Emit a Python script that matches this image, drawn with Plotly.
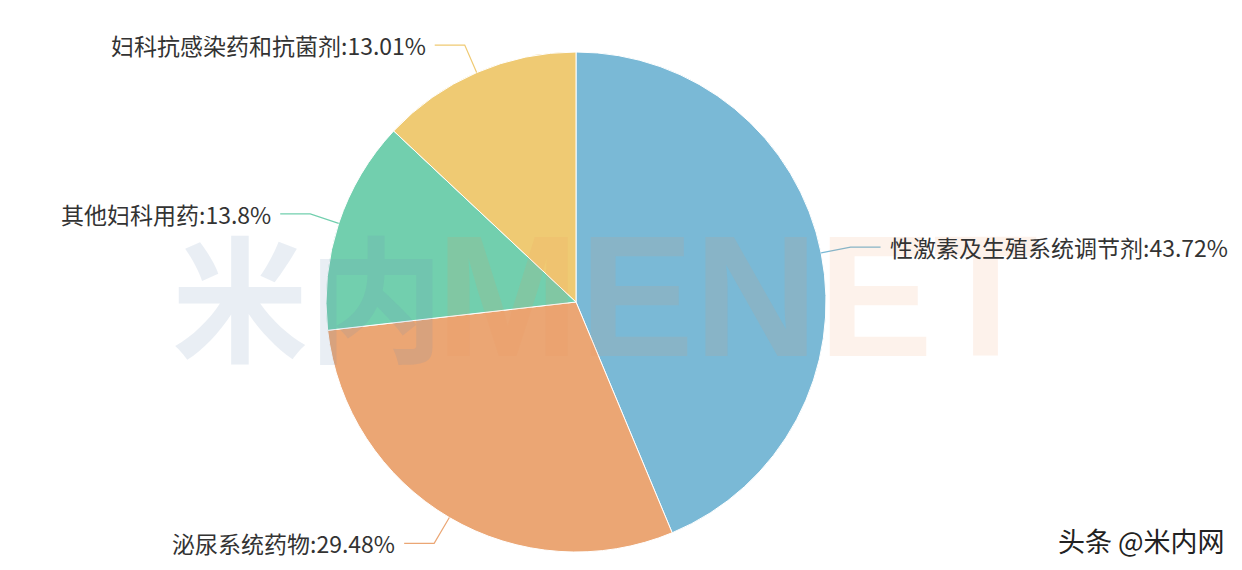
import math
import plotly.graph_objects as go

labels = ["性激素及生殖系统调节剂", "泌尿系统药物", "其他妇科用药", "妇科抗感染药和抗菌剂"]
values = [43.72, 29.48, 13.8, 13.01]
value_texts = ["43.72%", "29.48%", "13.8%", "13.01%"]
colors = ["#7ab9d6", "#eba674", "#72cfae", "#efca73"]

W, H = 1242, 570
OFF = 8  # page body margin offset in the browser
cx, cy, r = 576, 302, 250  # pie center / radius in screen pixels


def px(x):
    return (x - OFF) / W


def py(y):
    return 1 - (y - OFF) / H


fig = go.Figure()
fig.add_trace(go.Pie(
    labels=labels, values=values, sort=False, direction="clockwise", rotation=0,
    marker=dict(colors=colors, line=dict(color="#ffffff", width=1)),
    textinfo="none", hoverinfo="label+percent", showlegend=False,
    domain=dict(x=[px(cx - r), px(cx + r)], y=[py(cy + r), py(cy - r)]),
))

total = sum(values)
cum = 0
shapes = []
annotations = []

# watermark
annotations.append(dict(x=px(170), y=py(292), xref="paper", yref="paper", text="<b>米内</b>",
                        showarrow=False, xanchor="left", yanchor="middle",
                        font=dict(size=136, color="rgba(110,140,180,0.15)", family="Noto Sans CJK SC")))
annotations.append(dict(x=px(1040), y=py(296), xref="paper", yref="paper", text="<b>MENET</b>",
                        showarrow=False, xanchor="right", yanchor="middle",
                        font=dict(size=172, color="rgba(240,150,90,0.12)", family="Liberation Sans")))

for lab, v, vt, c in zip(labels, values, value_texts, colors):
    mid = (cum + v / 2) / total * 360
    cum += v
    ang = math.radians(90 - mid)
    ex, ey = cx + r * math.cos(ang), cy - r * math.sin(ang)
    bx, by = cx + (r + 30) * math.cos(ang), cy - (r + 30) * math.sin(ang)
    right = math.cos(ang) >= 0
    hx = bx + (30 if right else -30)
    shapes.append(dict(type="path", xref="paper", yref="paper",
                       path=f"M {px(ex)},{py(ey)} L {px(bx)},{py(by)} L {px(hx)},{py(by)}",
                       line=dict(color=c, width=1.2)))
    annotations.append(dict(x=px(hx + (7 if right else -7)), y=py(by), xref="paper", yref="paper",
                            text=f"{lab}:{vt}", showarrow=False,
                            xanchor="left" if right else "right", yanchor="middle",
                            font=dict(size=23, color="#333333", family="Noto Sans CJK SC")))

annotations.append(dict(x=px(1227), y=py(540), xref="paper", yref="paper", text="头条 @米内网",
                        showarrow=False, xanchor="right", yanchor="middle",
                        font=dict(size=27, color="#222222", family="Noto Sans CJK SC")))

fig.update_layout(width=W, height=H, margin=dict(l=0, r=0, t=0, b=0),
                  paper_bgcolor="#ffffff", plot_bgcolor="#ffffff",
                  shapes=shapes, annotations=annotations)
fig.write_html("out.html")
